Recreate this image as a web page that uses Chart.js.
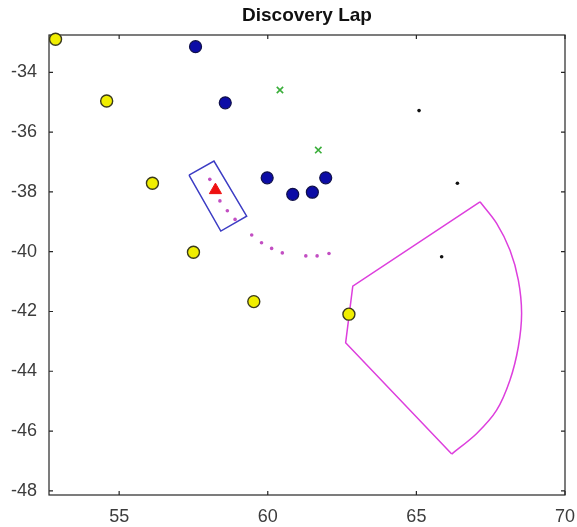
<!DOCTYPE html>
<html>
<head>
<meta charset="utf-8">
<script src="https://cdn.jsdelivr.net/npm/chart.js@4"></script>
<style>
body { margin: 0; background: #ffffff; }
#wrap { width: 577px; height: 527px; }
</style>
</head>
<body>
<div id="wrap"><canvas id="lapChart" width="577" height="527"></canvas></div>
<script>
// Discovery Lap

let xTicks = [55, 60, 65, 70];
let yTicks = [-48, -46, -44, -42, -40, -38, -36, -34];

let yellowX = [52.86, 54.58, 56.12, 57.50, 59.53, 62.73];
let yellowY = [-32.89, -34.96, -37.71, -40.02, -41.67, -42.09];

let blueX = [57.57, 58.57, 59.98, 60.84, 61.50, 61.95];
let blueY = [-33.14, -35.02, -37.53, -38.08, -38.01, -37.53];

let greenX = [60.41, 61.70];
let greenY = [-34.59, -36.60];

let blackX = [65.09, 66.38, 65.85];
let blackY = [-35.28, -37.71, -40.17];

let redX = [58.24];
let redY = [-37.94];

let pathX = [58.05, 58.39, 58.64, 58.90, 59.46, 59.79, 60.13, 60.49, 61.28, 61.66, 62.06];
let pathY = [-37.58, -38.30, -38.63, -38.92, -39.44, -39.70, -39.89, -40.04, -40.14, -40.14, -40.06];

let boxX = [57.35, 58.19, 59.29, 58.42, 57.35];
let boxY = [-37.44, -36.97, -38.81, -39.31, -37.44];

let sectorEdgeX = [67.14, 62.86, 62.62, 66.19];
let sectorEdgeY = [-38.33, -41.15, -43.05, -46.77];

let sectorArcX = [67.14, 67.70, 68.15, 68.43, 68.54, 68.43, 68.15, 67.70, 67.03, 66.19];
let sectorArcY = [-38.33, -39.05, -39.95, -40.95, -42.06, -43.18, -44.29, -45.30, -46.08, -46.77];

let pts = function(xs, ys) {
	let out = [];
	for (let i = 0; i < xs.length; i++) {
		out.push({ x: xs[i], y: ys[i] });
	}
	return out;
}

// box with inward ticks, like the original figure
let frameTicks = {
	id: 'frameTicks',
	beforeDatasetsDraw: function(chart) {
		let c = chart.ctx;
		let a = chart.chartArea;
		let sx = chart.scales.x;
		let sy = chart.scales.y;
		c.save();
		c.strokeStyle = '#262626';
		c.lineWidth = 1.2;
		c.strokeRect(a.left, a.top, a.right - a.left, a.bottom - a.top);
		c.beginPath();
		xTicks.forEach(function(v) {
			let px = sx.getPixelForValue(v);
			c.moveTo(px, a.bottom); c.lineTo(px, a.bottom - 4);
			c.moveTo(px, a.top); c.lineTo(px, a.top + 4);
		});
		yTicks.forEach(function(v) {
			let py = sy.getPixelForValue(v);
			c.moveTo(a.left, py); c.lineTo(a.left + 4, py);
			c.moveTo(a.right, py); c.lineTo(a.right - 4, py);
		});
		c.stroke();
		c.restore();
	}
};

let ctx_lap = document.getElementById('lapChart').getContext('2d');

let lapChart = new Chart(ctx_lap, {
	type: 'scatter',
	data: {
		datasets: [
			{
				label: 'yellow',
				data: pts(yellowX, yellowY),
				pointRadius: 6,
				pointBackgroundColor: '#f0ee00',
				pointBorderColor: '#3a3a1c',
				pointBorderWidth: 1.4,
				clip: false
			},
			{
				label: 'triangle',
				data: pts(redX, redY),
				pointStyle: 'triangle',
				pointRadius: 7,
				pointBackgroundColor: '#ee1010',
				pointBorderColor: '#ee1010',
				pointBorderWidth: 1,
				clip: false
			},
			{
				label: 'blue',
				data: pts(blueX, blueY),
				pointRadius: 6,
				pointBackgroundColor: '#0c0ca6',
				pointBorderColor: '#10104a',
				pointBorderWidth: 1.2,
				clip: false
			},
			{
				label: 'green',
				data: pts(greenX, greenY),
				pointStyle: 'crossRot',
				pointRadius: 4.5,
				pointBorderColor: '#3aae3a',
				pointBorderWidth: 1.6,
				clip: false
			},
			{
				label: 'black',
				data: pts(blackX, blackY),
				pointRadius: 1.8,
				pointBackgroundColor: '#111111',
				pointBorderWidth: 0,
				clip: false
			},
			{
				label: 'path',
				data: pts(pathX, pathY),
				pointRadius: 1.8,
				pointBackgroundColor: '#c24ec2',
				pointBorderWidth: 0,
				clip: false
			},
			{
				label: 'box',
				data: pts(boxX, boxY),
				showLine: true,
				borderColor: '#3c3cc4',
				borderWidth: 1.5,
				pointRadius: 0,
				tension: 0,
				clip: false
			},
			{
				label: 'sector edges',
				data: pts(sectorEdgeX, sectorEdgeY),
				showLine: true,
				borderColor: '#dd3fdd',
				borderWidth: 1.5,
				pointRadius: 0,
				tension: 0,
				clip: false
			},
			{
				label: 'sector arc',
				data: pts(sectorArcX, sectorArcY),
				showLine: true,
				borderColor: '#dd3fdd',
				borderWidth: 1.5,
				pointRadius: 0,
				tension: 0.3,
				clip: false
			}
		]
	},
	options: {
		responsive: false,
		animation: false,
		layout: {
			padding: { left: 0, right: 12, top: 0, bottom: 0 }
		},
		plugins: {
			legend: { display: false },
			tooltip: { enabled: false },
			title: {
				display: true,
				text: 'Discovery Lap',
				fullSize: false,
				color: '#111111',
				font: { family: 'Liberation Sans, Arial, sans-serif', size: 19, weight: 'bold' },
				padding: { top: 4, bottom: 8.2 }
			}
		},
		scales: {
			x: {
				type: 'linear',
				min: 52.64,
				max: 70,
				grid: { display: false, drawTicks: false },
				border: { display: false },
				afterBuildTicks: function(scale) {
					scale.ticks = xTicks.map(function(v) { return { value: v }; });
				},
				afterFit: function(scale) {
					scale.height = 32;
					scale.paddingLeft = 0;
					scale.paddingRight = 0;
				},
				ticks: {
					color: '#3c3c3c',
					padding: 11,
					maxRotation: 0,
					font: { family: 'Liberation Sans, Arial, sans-serif', size: 18 }
				}
			},
			y: {
				type: 'linear',
				min: -48.14,
				max: -32.75,
				grid: { display: false, drawTicks: false },
				border: { display: false },
				afterBuildTicks: function(scale) {
					scale.ticks = yTicks.map(function(v) { return { value: v }; });
				},
				afterFit: function(scale) {
					scale.width = 49;
					scale.paddingTop = 0;
					scale.paddingBottom = 0;
				},
				ticks: {
					color: '#3c3c3c',
					padding: 12,
					font: { family: 'Liberation Sans, Arial, sans-serif', size: 18 }
				}
			}
		}
	},
	plugins: [frameTicks]
});
</script>
</body>
</html>
